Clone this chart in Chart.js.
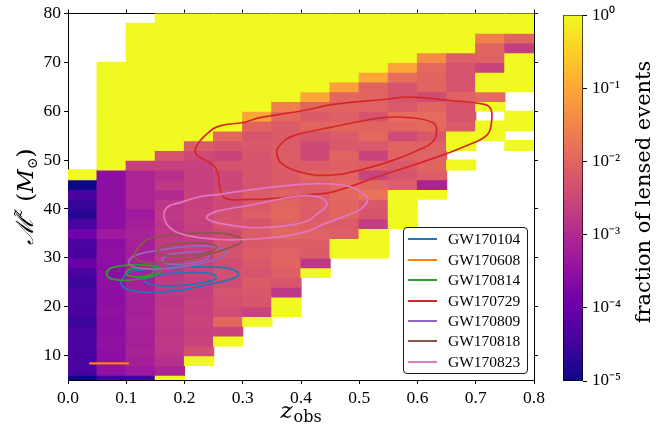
<!DOCTYPE html>
<html>
<head>
<meta charset="utf-8">
<script src="https://cdn.jsdelivr.net/npm/chart.js@4.4.1/dist/chart.umd.min.js"></script>
<style>
html,body{margin:0;padding:0;background:#fff;}
#wrap{position:relative;width:665px;height:434px;overflow:hidden;background:#fff;}
#main{position:absolute;left:0;top:0;}
#cbar{position:absolute;left:540px;top:0;}
#legend{position:absolute;left:403px;top:227px;width:125px;height:147px;box-sizing:border-box;border:1px solid #1a1a1a;border-radius:4px;background:rgba(255,255,255,0.9);font-family:'Liberation Serif',serif;font-size:15.5px;color:#000;}
.item{position:absolute;left:0;width:123px;height:20px;}
.sw{position:absolute;left:4px;top:9px;width:29px;height:2px;}
.lab{position:absolute;left:44px;top:0;line-height:20px;white-space:nowrap;}
</style>
</head>
<body>
<div id="wrap">
<canvas id="main" width="665" height="434"></canvas>
<canvas id="cbar" width="125" height="434"></canvas>
<div id="legend"></div>
</div>
<script>
const N = null;
// bin edges
const zBins = [0,0.05,0.1,0.15,0.2,0.25,0.3,0.35,0.4,0.45,0.5,0.55,0.6,0.65,0.7,0.75,0.8];
const mBins = [4,6,8,10,12,14,16,18,20,22,24,26,28,30,32,34,36,38,40,42,44,46,48,50,52,54,56,58,60,62,64,66,68,70,72,74,76,78,80];
const xTickValues = [0,0.1,0.2,0.3,0.4,0.5,0.6,0.7,0.8];
const yTickValues = [10,20,30,40,50,60,70,80];
const cbarTickValues = [1e-5,1e-4,1e-3,1e-2,1e-1,1];

// log10(fraction of lensed events), one array per z bin, rows from M=4-6 (bottom) to M=78-80 (top); null = empty bin
const lensedLog10 = [
 [-5.0,-4.4,-4.4,-4.4,-4.4,-4.4,-4.55,-4.4,-4.4,-4.4,-4.55,-4.4,-4.0,-4.4,-4.4,-3.9,-4.4,-4.75,-4.6,-4.4,-5.0,0,N,N,N,N,N,N,N,N,N,N,N,N,N,N,N,N],
 [-4.5,-3.5,-3.55,-3.55,-3.5,-3.55,-3.55,-3.5,-3.55,-3.55,-3.5,-3.55,-3.55,-3.5,-3.55,-3.3,-3.55,-3.55,-3.55,-3.55,-3.55,-3.55,0,0,0,0,0,0,0,0,0,0,0,N,N,N,N,N],
 [-4.5,-3.3,-3.2,-3.15,-3.2,-3.2,-3.15,-3.2,-3.2,-3.15,-3.2,-3.2,-3.15,-3.2,-3.2,-3.15,-3.2,-3.3,-3.1,-3.1,-3.1,-3.1,-2.6,0,0,0,0,0,0,0,0,0,0,0,0,0,0,N],
 [0,-3.1,-2.9,-2.8,-2.75,-2.8,-2.75,-2.75,-2.8,-2.75,-2.7,-2.75,-2.8,-2.75,-2.7,-2.75,-2.8,-2.75,-2.8,-3.0,-2.75,-2.9,-2.6,-2.25,0,0,0,0,0,0,0,0,0,0,0,0,0,0],
 [N,N,0,-2.35,-2.55,-2.6,-2.55,-2.6,-2.6,-2.65,-2.6,-2.55,-2.6,-2.6,-2.65,-2.6,-2.6,-2.55,-2.6,-2.6,-2.6,-2.6,-2.6,-2.45,-2.15,0,0,0,0,0,0,0,0,0,0,0,0,0],
 [N,N,N,N,0,-2.55,-1.95,-2.4,-2.35,-2.3,-2.4,-2.35,-2.4,-2.3,-2.35,-2.4,-2.3,-2.35,-2.45,-2.4,-2.5,-2.5,-2.3,-2.55,-2.25,-1.93,0,0,0,0,0,0,0,0,0,0,0,0],
 [N,N,N,N,N,N,0,-2.55,-2.25,-2.2,-2.15,-2.25,-2.2,-2.1,-2.2,-2.15,-2.25,-2.1,-2.2,-2.15,-2.3,-2.25,-2.25,-2.25,-2.2,-2.25,-2.0,-1.02,0,0,0,0,0,0,0,0,0,0],
 [N,N,N,N,N,N,N,0,0,-2.75,-2.25,-2.1,-2.0,-2.05,-2.1,-1.95,-2.05,-1.95,-2.0,-2.05,-2.15,-2.15,-2.15,-2.1,-2.15,-2.15,-2.15,-1.93,-1.56,0,0,0,0,0,0,0,0,0],
 [N,N,N,N,N,N,N,N,N,N,N,0,-2.75,-2.15,-2.1,-2.05,-2.1,-2.15,-2.1,-2.15,-2.1,-2.0,-2.15,-2.45,-2.45,-2.25,-2.0,-2.15,-2.0,-1.02,0,0,0,0,0,0,0,0],
 [N,N,N,N,N,N,N,N,N,N,N,N,N,0,0,-2.1,-2.15,-2.0,-2.0,-1.95,-1.95,-2.0,-2.07,-2.0,-2.2,-2.15,-1.95,-2.07,-2.0,-1.95,-1.1,0,0,0,0,0,0,0],
 [N,N,N,N,N,N,N,N,N,N,N,N,N,0,0,0,-2.65,-2.25,-2.2,-1.77,-1.95,-2.55,-2.1,-2.55,-2.2,-1.93,-2.0,-2.25,-2.05,-2.0,-2.0,-1.02,0,0,0,0,0,0],
 [N,N,N,N,N,N,N,N,N,N,N,N,N,N,N,N,0,0,0,0,-2.1,-2.25,-2.2,-2.05,-2.0,-2.4,-2.0,-1.9,-2.2,-2.25,-2.25,-1.85,-1.02,0,0,0,0,0],
 [N,N,N,N,N,N,N,N,N,N,N,N,N,N,N,N,N,N,N,0,-3.13,-2.1,-2.0,-2.05,-2.05,-2.2,-1.93,-1.9,-2.0,-2.4,-2.0,-2.0,-1.93,-1.39,0,0,0,0],
 [N,N,N,N,N,N,N,N,N,N,N,N,N,N,N,N,N,N,N,N,N,N,0,N,0,0,-2.15,-2.25,-2.25,-2.05,-2.25,-2.3,-2.25,-2.1,0,0,0,0],
 [N,N,N,N,N,N,N,N,N,N,N,N,N,N,N,N,N,N,N,N,N,N,N,N,N,0,0,N,0,-1.9,0,0,-2.55,-2.05,-2.0,-1.56,0,0],
 [N,N,N,N,N,N,N,N,N,N,N,N,N,N,N,N,N,N,N,N,N,N,N,N,0,N,0,0,N,N,0,0,0,0,-2.65,-2.0,0,0]
];

// event names / colours
const gwNames = ['GW170104','GW170608','GW170814','GW170729','GW170809','GW170818','GW170823'];
const gwColors = ['#1f77b4','#ff7f0e','#2ca02c','#d62728','#9467bd','#8c564b','#e377c2'];

// contour paths [z_obs, M^z]
const gw170104Outer = [[0.093,25.6],[0.101,26.8],[0.135,27.7],[0.215,28.1],[0.273,27.9],[0.293,26.8],[0.284,25.8],[0.244,24.6],[0.187,23.3],[0.135,22.9],[0.101,23.6],[0.091,24.6]];
const gw170104Inner = [[0.130,25.6],[0.158,26.6],[0.215,27.0],[0.250,26.6],[0.254,25.8],[0.238,25.1],[0.187,24.3],[0.141,24.6]];
const gw170608Line = [[0.038,8.4],[0.103,8.4]];
const gw170814Outer = [[0.066,27.0],[0.073,27.9],[0.101,28.5],[0.135,28.5],[0.158,27.9],[0.158,27.0],[0.135,26.0],[0.101,25.4],[0.073,25.8]];
const gw170814Inner = [[0.099,27.0],[0.107,27.7],[0.130,27.9],[0.147,27.5],[0.141,26.5],[0.118,26.1],[0.104,26.4]];
const gw170729Outer = [[0.2185,52.3],[0.221,51.0],[0.250,48.9],[0.258,46.9],[0.261,44.2],[0.270,42.2],[0.300,41.9],[0.369,42.3],[0.410,42.9],[0.455,43.5],[0.541,47.0],[0.626,50.3],[0.685,53.0],[0.719,55.1],[0.727,57.7],[0.726,60.4],[0.715,61.4],[0.655,62.2],[0.587,62.9],[0.541,62.4],[0.455,61.4],[0.407,60.2],[0.330,58.7],[0.301,57.7],[0.261,57.0],[0.238,55.3]];
const gw170729Inner = [[0.358,51.6],[0.364,49.6],[0.398,47.6],[0.451,46.9],[0.509,48.2],[0.566,50.3],[0.600,52.0],[0.626,53.7],[0.633,56.1],[0.626,57.7],[0.587,58.7],[0.541,58.7],[0.509,58.1],[0.451,56.7],[0.395,55.3],[0.375,54.3],[0.361,52.6]];
const gw170809Outer = [[0.104,29.3],[0.113,30.4],[0.147,31.4],[0.215,32.4],[0.261,32.0],[0.273,31.0],[0.255,29.7],[0.204,28.3],[0.147,27.7],[0.113,28.1]];
const gw170809Inner = [[0.161,29.7],[0.175,30.7],[0.215,31.2],[0.238,30.9],[0.241,30.0],[0.215,29.0],[0.175,28.7]];
const gw170818Outer = [[0.115,31.0],[0.135,33.7],[0.187,34.8],[0.250,35.1],[0.290,34.4],[0.298,33.4],[0.284,32.4],[0.250,31.0],[0.204,29.7],[0.158,29.0],[0.124,29.3]];
const gw170818Inner = [[0.153,31.4],[0.164,32.4],[0.215,33.1],[0.250,32.7],[0.255,32.0],[0.238,31.0],[0.198,30.4],[0.158,30.6]];
const gw170823Outer = [[0.515,41.9],[0.5045,40.1],[0.475,38.5],[0.441,37.0],[0.410,35.4],[0.369,34.4],[0.3125,33.8],[0.254,33.8],[0.198,34.8],[0.175,36.2],[0.165,38.3],[0.170,40.3],[0.1925,41.3],[0.227,42.5],[0.254,42.9],[0.3125,43.9],[0.395,45.0],[0.451,45.15],[0.486,44.5],[0.506,43.2]];
const gw170823Inner = [[0.238,38.5],[0.255,39.5],[0.312,40.75],[0.395,42.65],[0.429,42.5],[0.443,41.5],[0.443,40.5],[0.429,39.1],[0.410,37.5],[0.369,36.5],[0.312,36.2],[0.255,37.2],[0.2405,37.85]];

const gwContours = [
  [gw170104Outer, gw170104Inner],
  [gw170608Line],
  [gw170814Outer, gw170814Inner],
  [gw170729Outer, gw170729Inner],
  [gw170809Outer, gw170809Inner],
  [gw170818Outer, gw170818Inner],
  [gw170823Outer, gw170823Inner]
];

// ---------- colormap (plasma) ----------
const plasmaStops = ['#0d0887','#46039f','#7201a8','#9c179e','#bd3786','#d8576b','#ed7953','#fb9f3a','#fdca26','#f0f921'];
function hexRgb(h){return [parseInt(h.slice(1,3),16),parseInt(h.slice(3,5),16),parseInt(h.slice(5,7),16)];}
const plasmaRgb = plasmaStops.map(hexRgb);
function plasma(t){
  t = Math.max(0, Math.min(1, t));
  const s = t*(plasmaRgb.length-1);
  const i = Math.min(plasmaRgb.length-2, Math.floor(s));
  const f = s - i;
  const a = plasmaRgb[i], b = plasmaRgb[i+1];
  const c = a.map((v,k)=>Math.round(v+(b[k]-v)*f));
  return 'rgb('+c[0]+','+c[1]+','+c[2]+')';
}
const LOG_MIN = -5, LOG_MAX = 0;

// ---------- heatmap cells as floating bars ----------
const cells = [], cellColors = [];
lensedLog10.forEach((col, c) => {
  col.forEach((v, r) => {
    if (v === null) return;
    cells.push({x:(zBins[c]+zBins[c+1])/2, y:[mBins[r], mBins[r+1]]});
    cellColors.push(plasma((v-LOG_MIN)/(LOG_MAX-LOG_MIN)));
  });
});

const datasets = [{
  type:'bar', data:cells, backgroundColor:cellColors, borderWidth:0,
  barPercentage:1, categoryPercentage:1, grouped:false, inflateAmount:0.6, order:100
}];
gwContours.forEach((paths, i) => {
  paths.forEach(p => {
    const pts = p.map(q => ({x:q[0], y:q[1]}));
    const closed = pts.length > 2 ? pts.concat([pts[0], pts[1]]) : pts;
    datasets.push({
      type:'line', label:gwNames[i], data:closed, borderColor:gwColors[i],
      borderWidth: pts.length > 2 ? 1.7 : 2.2, pointRadius:0, tension:0.45, fill:false,
      order: 20 - i, borderCapStyle:'round'
    });
  });
});

const SERIF = "'Liberation Serif', serif";
const BIG = "'DejaVu Serif', serif";

const axisTitles = {
  id:'axisTitles',
  afterDraw(chart){
    const {ctx, chartArea:a} = chart;
    ctx.save();
    ctx.fillStyle = '#000';
    ctx.textAlign = 'left';
    ctx.textBaseline = 'alphabetic';
    // x title: z_obs
    ctx.font = 'italic 23px ' + BIG;
    const wz = ctx.measureText('z').width;
    ctx.font = '16px ' + BIG;
    const wo = ctx.measureText('obs').width;
    const cx = (a.left + a.right)/2;
    const x0 = cx - (wz + wo + 1)/2;
    ctx.font = 'italic 23px ' + BIG;
    ctx.fillText('z', x0, 418);
    ctx.font = '16px ' + BIG;
    ctx.fillText('obs', x0 + wz + 1, 422);
    // y title: M^z (M_sun)
    const parts = [
      {t:'\u2133', f:'italic 24px ' + BIG, dy:0},
      {t:'z', f:'italic 15px ' + BIG, dy:-11},
      {t:' (', f:'23px ' + BIG, dy:0},
      {t:'M', f:'italic 23px ' + BIG, dy:0},
      {t:'\u2299', f:'14px ' + BIG, dy:4},
      {t:')', f:'23px ' + BIG, dy:0}
    ];
    let total = 0;
    parts.forEach(p => { ctx.font = p.f; p.w = ctx.measureText(p.t).width; total += p.w; });
    ctx.translate(33, (a.top + a.bottom)/2);
    ctx.rotate(-Math.PI/2);
    let px = -total/2;
    parts.forEach(p => { ctx.font = p.f; ctx.fillText(p.t, px, p.dy); px += p.w; });
    ctx.restore();
  }
};

const tickFont = {family:SERIF, size:17.5};
const gridCfg = {drawOnChartArea:false, drawTicks:true, tickLength:4, color:'#000', tickWidth:1};
const borderCfg = {display:true, color:'#000', width:1};

new Chart(document.getElementById('main'), {
  type:'bar',
  data:{datasets},
  options:{
    responsive:false, animation:false, events:[],
    layout:{padding:0},
    plugins:{legend:{display:false}, tooltip:{enabled:false}},
    scales:{
      x:{type:'linear', position:'bottom', min:0, max:0.8, offset:false,
         afterBuildTicks(s){ s.ticks = xTickValues.map(v=>({value:v})); },
         afterFit(s){ s.height = 54; },
         grid:Object.assign({offset:false}, gridCfg), border:borderCfg,
         ticks:{color:'#000', font:tickFont, padding:4, maxRotation:0, autoSkip:false, callback:v=>Number(v).toFixed(1)}},
      x2:{type:'linear', position:'top', min:0, max:0.8, offset:false,
         afterBuildTicks(s){ s.ticks = xTickValues.map(v=>({value:v})); },
         afterFit(s){ s.height = 10; },
         grid:Object.assign({offset:false}, gridCfg), border:borderCfg, ticks:{display:false}},
      y:{type:'linear', position:'left', min:5, max:80,
         afterBuildTicks(s){ s.ticks = yTickValues.map(v=>({value:v})); },
         afterFit(s){ s.width = 68; },
         grid:gridCfg, border:borderCfg,
         ticks:{color:'#000', font:tickFont, padding:3, autoSkip:false}},
      y2:{type:'linear', position:'right', min:5, max:80,
         afterBuildTicks(s){ s.ticks = yTickValues.map(v=>({value:v})); },
         afterFit(s){ s.width = 131; },
         grid:gridCfg, border:borderCfg, ticks:{display:false}}
    }
  },
  plugins:[axisTitles]
});

// ---------- colorbar ----------
const supDigits = {'0':'\u2070','1':'\u00b9','2':'\u00b2','3':'\u00b3','4':'\u2074','5':'\u2075','-':'\u207b'};
function powLabel(v){
  const e = String(Math.round(Math.log10(v)));
  return '10' + e.split('').map(ch=>supDigits[ch]).join('');
}
const cbarTitle = {
  id:'cbarTitle',
  afterDraw(chart){
    const {ctx, chartArea:a} = chart;
    ctx.save();
    ctx.fillStyle = '#000';
    ctx.font = '21px ' + BIG;
    ctx.textAlign = 'center';
    ctx.textBaseline = 'alphabetic';
    ctx.translate(110, 192);
    ctx.rotate(-Math.PI/2);
    ctx.fillText('fraction of lensed events', 0, 0);
    ctx.restore();
  }
};
new Chart(document.getElementById('cbar'), {
  type:'bar',
  data:{labels:['fraction'], datasets:[{
    data:[[1e-5, 1]],
    backgroundColor(ctx){
      const area = ctx.chart.chartArea;
      if (!area) return plasma(0.5);
      const g = ctx.chart.ctx.createLinearGradient(0, area.bottom, 0, area.top);
      plasmaStops.forEach((c,i)=>g.addColorStop(i/(plasmaStops.length-1), c));
      return g;
    },
    borderColor:'#000', borderWidth:1, borderSkipped:false,
    barPercentage:1, categoryPercentage:1
  }]},
  options:{
    responsive:false, animation:false, events:[],
    layout:{padding:{left:23, top:10, bottom:53, right:0}},
    plugins:{legend:{display:false}, tooltip:{enabled:false}},
    scales:{
      x:{display:false},
      y:{type:'logarithmic', position:'right', min:1e-5, max:1,
         afterBuildTicks(s){ s.ticks = cbarTickValues.map(v=>({value:v, major:true})); },
         afterFit(s){ s.width = 82; },
         grid:{drawOnChartArea:false, drawTicks:true, tickLength:4, color:'#000'},
         border:{display:false},
         ticks:{color:'#000', font:{family:SERIF, size:17}, padding:5, autoSkip:false, callback:v=>powLabel(v)}}
    }
  },
  plugins:[cbarTitle]
});

// ---------- legend ----------
const legend = document.getElementById('legend');
gwNames.forEach((name, i) => {
  const item = document.createElement('div');
  item.className = 'item';
  item.style.top = (1.3 + 20.4*i) + 'px';
  const sw = document.createElement('div');
  sw.className = 'sw';
  sw.style.background = gwColors[i];
  const lab = document.createElement('div');
  lab.className = 'lab';
  lab.textContent = name;
  item.appendChild(sw); item.appendChild(lab);
  legend.appendChild(item);
});
</script>
</body>
</html>
